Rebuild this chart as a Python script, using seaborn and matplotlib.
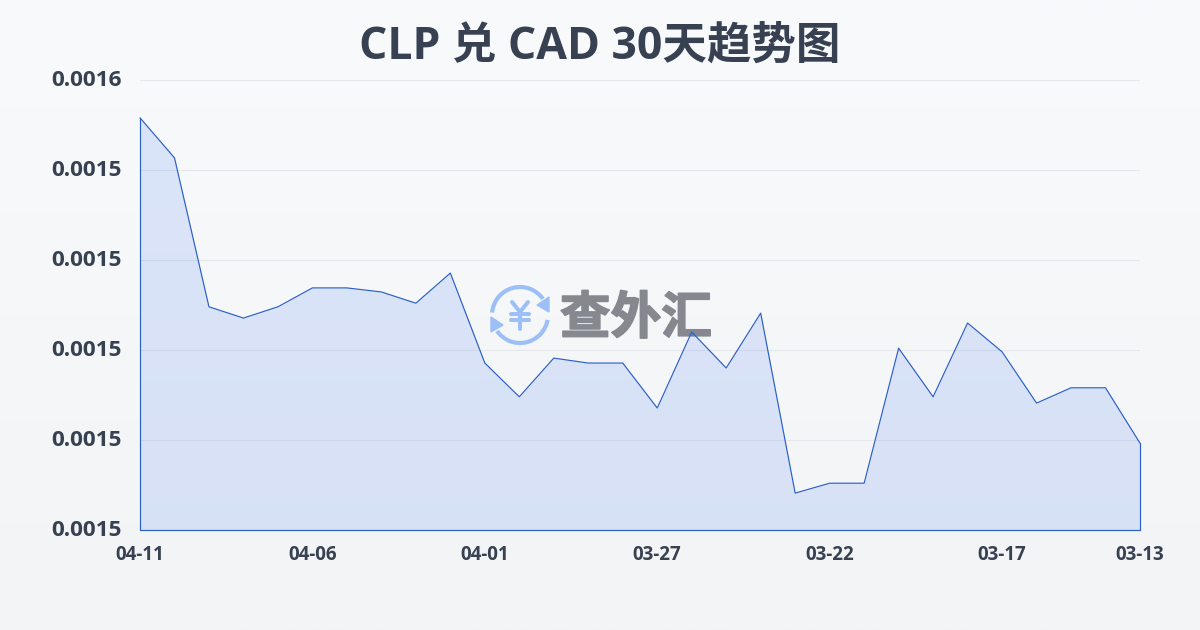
import seaborn as sns
import pandas as pd
import matplotlib.pyplot as plt
import matplotlib.patheffects as pe
import matplotlib.transforms as mtrans
import numpy as np
from matplotlib.patches import Arc, Polygon

dates = ['04-11', '04-10', '04-09', '04-08', '04-07', '04-06', '04-05', '04-04', '04-03', '04-02',
         '04-01', '03-31', '03-30', '03-29', '03-28', '03-27', '03-26', '03-25', '03-24', '03-23',
         '03-22', '03-21', '03-20', '03-19', '03-18', '03-17', '03-16', '03-15', '03-14', '03-13']
rates = [0.0015516, 0.0015427, 0.0015096, 0.0015071, 0.0015096, 0.0015138, 0.0015138, 0.0015129,
         0.0015104, 0.0015171, 0.0014971, 0.0014896, 0.0014982, 0.0014971, 0.0014971, 0.0014871,
         0.0015040, 0.0014960, 0.0015082, 0.0014682, 0.0014704, 0.0014704, 0.0015004, 0.0014896,
         0.0015060, 0.0014996, 0.0014882, 0.0014916, 0.0014916, 0.0014793]
x_tick_labels = ['04-11', '04-06', '04-01', '03-27', '03-22', '03-17', '03-13']
y_ticks = [0.00146, 0.00148, 0.00150, 0.00152, 0.00154, 0.00156]

sns.set_theme(style='white')
plt.rcParams['font.family'] = ['Open Sans', 'Noto Sans CJK SC', 'DejaVu Sans']

TEXT = '#374151'
LINE = '#2b5fc9'
GRID = '#e5e7eb'

df = pd.DataFrame({'date': dates, 'rate': rates})
df['pos'] = np.arange(len(df))

fig = plt.figure(figsize=(12, 6.3), dpi=100)

# background gradient and overlay share the same pixel coordinates
bg = fig.add_axes([0, 0, 1, 1], zorder=0)
bg.imshow(np.linspace(0, 1, 256).reshape(-1, 1), aspect='auto', extent=(0, 1200, 630, 0),
          cmap=sns.blend_palette(['#f8fafc', '#f3f4f6'], as_cmap=True))
bg.set_xlim(0, 1200)
bg.set_ylim(630, 0)
bg.axis('off')

ax = fig.add_axes([140 / 1200, 100 / 630, 1000 / 1200, 450 / 630], zorder=2)
ax.patch.set_alpha(0)
ax.fill_between(df['pos'], df['rate'], y_ticks[0], color='#2563eb', alpha=0.135, linewidth=0)
sns.lineplot(data=df, x='pos', y='rate', ax=ax, color=LINE, linewidth=0.85, clip_on=False)
# outline closes down the sides and along the bottom
ax.plot([0, 0, len(df) - 1, len(df) - 1], [rates[0], y_ticks[0], y_ticks[0], rates[-1]],
        color=LINE, linewidth=0.85, clip_on=False)

ax.set_xlim(0, len(df) - 1)
ax.set_ylim(y_ticks[0], y_ticks[-1])
ax.set_xticks([dates.index(d) for d in x_tick_labels])
ax.set_xticklabels(x_tick_labels, fontsize=13.5, fontweight='bold', color=TEXT)
ax.set_yticks(y_ticks)
ax.set_yticklabels(['%.4f' % v for v in y_ticks], fontsize=16.2, fontweight='bold', color=TEXT)
ax.tick_params(axis='x', length=7, width=0.8, color=GRID, pad=3.5)
ax.tick_params(axis='y', length=0, pad=13)
ax.grid(axis='y', color=GRID, linewidth=0.8)
ax.set_axisbelow(True)
ax.set(xlabel='', ylabel='')
sns.despine(ax=ax, left=True, bottom=True)

# y labels sit a little above their gridlines
nudge = mtrans.ScaledTranslation(0, 2 / 100, fig.dpi_scale_trans)
for label in ax.get_yticklabels():
    label.set_transform(label.get_transform() + nudge)

fig.text(600 / 1200, 1 - 47.5 / 630, 'CLP 兑 CAD 30天趋势图', ha='center', va='center',
         fontsize=32, fontweight='bold', color=TEXT)

# watermark logo
ICON = '#9dbff7'
bg.text(636, 319, '查外汇', ha='center', va='center', fontsize=36.5, fontweight=900, color='#85898f',
        family=['Noto Sans CJK SC', 'DejaVu Sans'],
        path_effects=[pe.withStroke(linewidth=1.2, foreground='#85898f')])
bg.add_patch(Arc((520, 315), 56, 56, theta1=185, theta2=325, color=ICON, linewidth=3))
bg.add_patch(Arc((520, 315), 56, 56, theta1=10, theta2=145, color=ICON, linewidth=3))
bg.add_patch(Polygon([[549, 297], [549, 312], [537, 305]], color=ICON))
bg.add_patch(Polygon([[491, 317], [491, 332], [503, 325]], color=ICON))
yen_style = dict(color=ICON, linewidth=2.9, solid_capstyle='round', solid_joinstyle='round')
bg.plot([512, 520, 528], [302, 312, 302], **yen_style)
bg.plot([511, 529], [313.5, 313.5], **yen_style)
bg.plot([511, 529], [320, 320], **yen_style)
bg.plot([520, 520], [312, 329], **yen_style)

plt.savefig('out.png', dpi=100)
